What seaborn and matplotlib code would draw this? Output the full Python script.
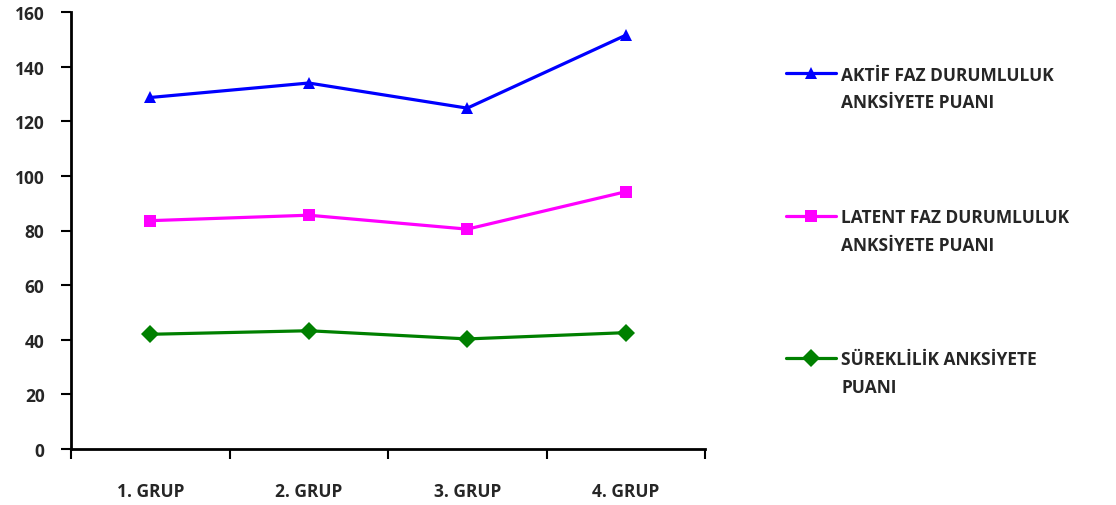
import numpy as np
import pandas as pd
import matplotlib
matplotlib.use("Agg")
import matplotlib.pyplot as plt
from matplotlib.legend_handler import HandlerLine2D
from matplotlib.transforms import Affine2D
import seaborn as sns

groups = ["1. GRUP", "2. GRUP", "3. GRUP", "4. GRUP"]
aktif = [128.7, 134.0, 124.8, 151.5]
latent = [83.6, 85.6, 80.5, 94.2]
sureklilik = [42.0, 43.3, 40.3, 42.6]
series_names = ["AKTİF FAZ DURUMLULUK\nANKSİYETE PUANI",
                "LATENT FAZ DURUMLULUK\nANKSİYETE PUANI",
                "SÜREKLİLİK ANKSİYETE\nPUANI"]
yticks = [0, 20, 40, 60, 80, 100, 120, 140, 160]

sns.set_style("white")
plt.rcParams['font.family'] = ['Open Sans', 'DejaVu Sans']
plt.rcParams['font.weight'] = 'bold'

rows = []
for name, vals in zip(series_names, [aktif, latent, sureklilik]):
    for i, v in enumerate(vals):
        rows.append({"grp": i, "val": v, "series": name})
df = pd.DataFrame(rows)

fig = plt.figure(figsize=(11.16, 5.06), dpi=100)
ax = fig.add_axes([71/1116, 1-450/506, (705-71)/1116, (450-13)/506])

palette = {series_names[0]: "#0000FF", series_names[1]: "#FF00FF", series_names[2]: "#008000"}
markers = {series_names[0]: "^", series_names[1]: "s", series_names[2]: "D"}
sns.lineplot(data=df, x="grp", y="val", hue="series", style="series",
             palette=palette, markers=markers, dashes=False, linewidth=2.3,
             markersize=9, markeredgewidth=0, ax=ax, legend=True)

ax.set_xlim(-0.5, 3.5)
ax.set_ylim(0, 160)
ax.set_yticks(yticks)
ax.set_yticklabels([str(t) for t in yticks], fontsize=12.5, fontweight='bold')
ax.set_xticks(np.arange(-0.5, 4.0, 1.0))
ax.set_xticklabels([])
ax.set_xticks(np.arange(4), minor=True)
ax.set_xticklabels(groups, minor=True, fontsize=12.5, fontweight='bold')
ax.tick_params(axis='x', which='minor', bottom=True, length=0, pad=24)
ax.tick_params(axis='x', which='major', bottom=True, length=7, width=1.5, direction='out', color='black')
ax.tick_params(axis='y', left=True, length=7, width=1.5, direction='out', color='black', pad=12)
ax.set_xlabel("")
ax.set_ylabel("")
for s in ['top', 'right']:
    ax.spines[s].set_visible(False)
for s in ['left', 'bottom']:
    ax.spines[s].set_color('black')
    ax.spines[s].set_linewidth(2)


class UpHandler(HandlerLine2D):
    def create_artists(self, legend, orig_handle, xdescent, ydescent, width, height, fontsize, trans):
        arts = super().create_artists(legend, orig_handle, xdescent, ydescent, width, height, fontsize, trans)
        for a in arts:
            a.set_transform(trans + Affine2D().translate(0, 16))
        return arts


handles, labels = ax.get_legend_handles_labels()
ax.get_legend().remove()
leg = fig.legend(handles, labels, loc='upper left', bbox_to_anchor=(770/1116, 1-51/506),
                 frameon=False, fontsize=12.5, labelspacing=5.55, handlelength=2.9,
                 handletextpad=0.3, handler_map={h: UpHandler() for h in handles})
for t in leg.get_texts():
    t.set_fontweight('bold')
    t.set_linespacing(1.7)

fig.savefig("out.png", dpi=100)
